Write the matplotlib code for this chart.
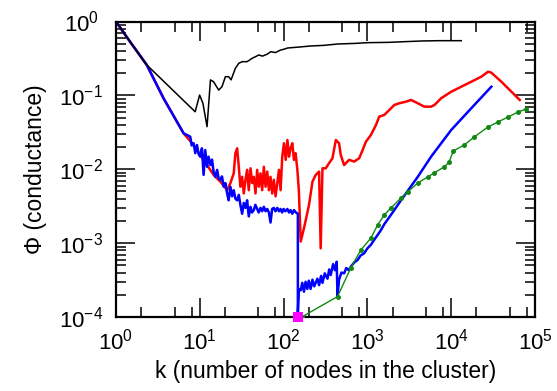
import matplotlib
matplotlib.use("Agg")
import matplotlib.pyplot as plt
from matplotlib.ticker import LogLocator, NullFormatter, FixedLocator

plt.rcParams['font.family'] = ['Liberation Sans', 'DejaVu Sans']
plt.rcParams['mathtext.fontset'] = 'custom'
plt.rcParams['mathtext.rm'] = 'Liberation Sans'
plt.rcParams['mathtext.it'] = 'Liberation Sans:italic'
plt.rcParams['mathtext.bf'] = 'Liberation Sans:bold'

# ---------------- data ----------------
black_k = [1, 1.47, 2.33, 8.8, 9.95, 10.9, 12.2, 13.4, 14.6, 16.8, 18.4, 20.2, 22.1,
           23.6, 26.6, 29.2, 32, 36.7, 42.2, 46.2, 50.6, 56, 64.3, 70, 80, 92, 100,
           112, 150, 210, 300, 443, 700, 1014, 1800, 2735, 4500, 6980, 13180]
black_phi = [1, 0.533, 0.258, 0.060, 0.101, 0.078, 0.0377, 0.162, 0.153, 0.118, 0.131,
             0.179, 0.179, 0.162, 0.233, 0.272, 0.286, 0.286, 0.318, 0.334, 0.352, 0.34,
             0.363, 0.39, 0.38, 0.411, 0.42, 0.438, 0.45, 0.466, 0.475, 0.496, 0.505,
             0.517, 0.522, 0.533, 0.545, 0.55, 0.55]

red_k = [1, 1.47, 2.33, 3.69, 6.40, 8.43, 10.1, 12.2, 14.6, 17.6, 21.2, 23.2, 25.4,
         26.6, 27.9, 29.2, 30.5, 32.0, 33.5, 35.1, 36.7, 38.4, 40.3, 42.2, 44.1, 46.2,
         48.4, 50.6, 53.0, 55.5, 58.1, 60.9, 63.8, 66.8, 69.8, 73.1, 76.5, 80.2, 84.1,
         88.0, 92.0, 96.4, 101, 106, 111, 116, 121, 127, 133, 139, 146, 152, 160, 175,
         201, 221, 242, 265, 277, 291, 318, 349, 383, 420, 459, 481, 527, 605, 695,
         798, 877, 960, 1101, 1265, 1384, 1589, 1824, 2094, 2404, 2891, 3319, 3992,
         4786, 5754, 6310, 7586, 10000, 13180, 17380, 22870, 27540, 30130, 39700,
         52360, 65770]
red_phi = [1, 0.533, 0.258, 0.0914, 0.0307, 0.0213, 0.0156, 0.0114, 0.0084, 0.0068,
           0.0052, 0.0065, 0.0088, 0.0165, 0.0192, 0.0108, 0.0058, 0.0079, 0.0047,
           0.0072, 0.0098, 0.0052, 0.0103, 0.0065, 0.0079, 0.0047, 0.0098, 0.0058,
           0.0088, 0.0052, 0.0108, 0.0058, 0.0093, 0.0052, 0.0079, 0.0047, 0.0072,
           0.0043, 0.0065, 0.0098, 0.0052, 0.0148, 0.0225, 0.0134, 0.0249, 0.0148,
           0.0192, 0.0225, 0.0134, 0.0165, 0.0098, 0.0052, 0.00105, 0.00159, 0.00329,
           0.0068, 0.0084, 0.0093, 0.00085, 0.0103, 0.0103, 0.0121, 0.0141, 0.0249,
           0.0225, 0.0156, 0.0114, 0.0134, 0.0127, 0.0141, 0.0182, 0.0236, 0.0291,
           0.0397, 0.0515, 0.0543, 0.0634, 0.0741, 0.0782, 0.0822, 0.0867, 0.0782,
           0.0703, 0.0703, 0.0741, 0.0914, 0.112, 0.131, 0.153, 0.179, 0.209, 0.203,
           0.153, 0.112, 0.0867]

blue_k = [1, 1.47, 2.33, 3.69, 6.40, 7.69, 8.0, 8.43, 8.83, 9.25, 9.7, 10.1, 10.6,
          11.1, 11.6, 12.2, 12.7, 13.4, 14.0, 14.6, 15.3, 16.1, 16.8, 17.6, 18.4, 19.3,
          20.2, 21.2, 22.1, 23.2, 24.3, 25.4, 26.6, 27.9, 29.2, 30.5, 32.0, 33.5, 35.1,
          36.7, 38.4, 40.3, 42, 44.1, 46, 48.4, 50.5, 53.0, 55.5, 58.1, 61, 63.8, 66.8,
          69.8, 73, 76.5, 80, 84.1, 88, 92.0, 96, 100, 105, 111, 116, 121, 127, 133,
          140, 148, 148, 152, 160, 167, 175, 183, 192, 200, 210, 221, 232, 253, 265,
          280, 291, 310, 334, 350, 365, 390, 410, 430, 440, 459, 490, 527, 560, 600,
          634, 700, 763, 830, 916, 1000, 1101, 1200, 1324, 1450, 1589, 2000, 2518,
          3992, 5754, 10000, 17380, 30130]
blue_phi = [1, 0.533, 0.258, 0.0914, 0.0307, 0.0276, 0.0210, 0.0225, 0.0165, 0.0213,
            0.0160, 0.0148, 0.0192, 0.0084, 0.0182, 0.0108, 0.0148, 0.0114, 0.0135,
            0.0093, 0.0079, 0.0098, 0.0075, 0.0072, 0.0080, 0.0058, 0.0065, 0.0047,
            0.0038, 0.0058, 0.0043, 0.0052, 0.0040, 0.0038, 0.0045, 0.0033, 0.0025,
            0.0035, 0.0030, 0.0038, 0.0023, 0.0031, 0.0026, 0.0028, 0.0033, 0.0029,
            0.0026, 0.0030, 0.0027, 0.0031, 0.0027, 0.0029, 0.0026, 0.0019, 0.0029,
            0.0030, 0.0027, 0.0030, 0.0027, 0.0029, 0.0026, 0.0029, 0.0027, 0.0029,
            0.0026, 0.0028, 0.0025, 0.0028, 0.0026, 0.0025, 0.000115, 0.00024, 0.00023,
            0.00029, 0.00022, 0.00030, 0.00024, 0.00031, 0.00024, 0.00032, 0.00026,
            0.00033, 0.00027, 0.00036, 0.00029, 0.00039, 0.00033, 0.00044, 0.00037,
            0.00052, 0.00043, 0.00056, 0.00019, 0.00032, 0.00040, 0.00039, 0.00046,
            0.00043, 0.00048, 0.00055, 0.00059, 0.00068, 0.00073, 0.00085, 0.00095,
            0.0011, 0.00129, 0.0015, 0.0018, 0.0026, 0.0038, 0.0079, 0.0148, 0.034,
            0.067, 0.131]

green_k = [167, 440, 634, 836, 1101, 1324, 1589, 1911, 2518, 3029, 3992, 5260, 6250,
           8240, 9460, 10570, 14320, 18850, 27540, 36240, 47750, 62950, 79070]
green_phi = [1.01e-4, 1.89e-4, 4.62e-4, 8.09e-4, 1.17e-3, 1.76e-3, 2.41e-3, 2.99e-3,
             4.09e-3, 4.93e-3, 6.53e-3, 7.87e-3, 8.91e-3, 0.01075, 0.01256, 0.0177,
             0.0213, 0.0274, 0.0374, 0.0437, 0.0510, 0.0596, 0.0655]

magenta_k = [147]
magenta_phi = [1e-4]

x_ticks = [1, 10, 100, 1000, 10000, 100000]
x_labels = ['$10^{0}$', '$10^{1}$', '$10^{2}$', '$10^{3}$', '$10^{4}$', '$10^{5}$']
y_ticks = [1e-4, 1e-3, 1e-2, 1e-1, 1]
y_labels = ['$10^{-4}$', '$10^{-3}$', '$10^{-2}$', '$10^{-1}$', '$10^{0}$']

# ---------------- plot ----------------
fig = plt.figure(figsize=(5.57, 3.91), dpi=100)
ax = fig.add_axes([116/557, 74/391, 419/557, 295.5/391])

ax.plot(red_k, red_phi, color='#ff0000', lw=1.8, zorder=2)
ax.plot(blue_k, blue_phi, color='#0000ff', lw=1.8, zorder=3)
ax.plot(green_k, green_phi, color='#118811', lw=1.0, marker='o', ms=3.6,
        markeredgewidth=0, zorder=4)
ax.plot(black_k, black_phi, color='black', lw=1.1, zorder=5)
ax.plot(magenta_k, magenta_phi, linestyle='none', marker='s', ms=6.5,
        color='#ff00ff', markeredgewidth=0, clip_on=False, zorder=6)

ax.set_xscale('log')
ax.set_yscale('log')
ax.set_xlim(1, 1e5)
ax.set_ylim(1e-4, 1)

ax.xaxis.set_major_locator(FixedLocator(x_ticks))
ax.set_xticklabels(x_labels)
ax.yaxis.set_major_locator(FixedLocator(y_ticks))
ax.set_yticklabels(y_labels)
ax.xaxis.set_minor_locator(LogLocator(base=10, subs=(2, 5, 8), numticks=20))
ax.yaxis.set_minor_locator(LogLocator(base=10, subs=(2, 3, 4, 5, 6, 7, 8, 9), numticks=20))
ax.xaxis.set_minor_formatter(NullFormatter())
ax.yaxis.set_minor_formatter(NullFormatter())

ax.tick_params(which='both', direction='in', top=True, right=True, width=1.1,
               labelsize=16)
ax.tick_params(which='major', length=14)
ax.tick_params(which='minor', length=7)
ax.tick_params(axis='x', which='major', pad=8)
ax.tick_params(axis='y', which='major', pad=25)
for t in ax.get_yticklabels():
    t.set_horizontalalignment('center')

for s in ax.spines.values():
    s.set_linewidth(1.6)

ax.set_xlabel('k (number of nodes in the cluster)', fontsize=16.5)
ax.set_ylabel('\u03a6 (conductance)', fontsize=16.5)
ax.xaxis.set_label_coords(0.5, -0.145)
ax.yaxis.set_label_coords(-0.165, 0.5)

fig.savefig('out.png', dpi=100)
